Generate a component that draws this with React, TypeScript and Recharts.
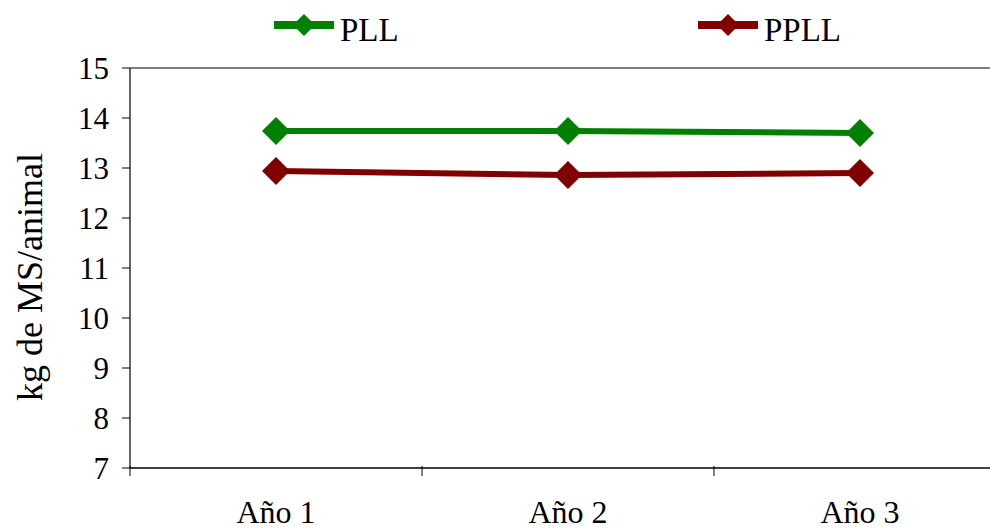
import React from 'react';
import { LineChart, Line, XAxis, YAxis, ReferenceLine } from 'recharts';

const years = ['Año 1', 'Año 2', 'Año 3'];
const pllValues = [13.74, 13.74, 13.7];
const ppllValues = [12.94, 12.86, 12.9];
const yTicks = [7, 8, 9, 10, 11, 12, 13, 14, 15];

const series = [
  { key: 'PLL', color: '#008000' },
  { key: 'PPLL', color: '#800000' },
];

const data = years.map((year, i) => ({
  year,
  PLL: pllValues[i],
  PPLL: ppllValues[i],
}));

const FONT = "'Liberation Serif', 'Times New Roman', serif";

const diamond = (color: string, r: number) => (props: any) => {
  const { cx, cy, index } = props;
  if (cx == null || cy == null) return <g key={index} />;
  return (
    <polygon
      key={index}
      points={`${cx},${cy - r} ${cx + r},${cy} ${cx},${cy + r} ${cx - r},${cy}`}
      fill={color}
    />
  );
};

// category label in the middle of each band, tick line on the band's left edge
const YearTick = (props: any) => {
  const { x, y, payload, width, visibleTicksCount } = props;
  const edge = x - width / (2 * visibleTicksCount);
  return (
    <g>
      <line x1={edge} y1={y - 10} x2={edge} y2={y} stroke="#000" strokeWidth={1} />
      <text x={x} y={y + 47} textAnchor="middle" fontSize={32} fontFamily={FONT} fill="#000">
        {payload.value}
      </text>
    </g>
  );
};

const legendPos = [274, 698];

const App: React.FC = () => {
  return (
    <div style={{ position: 'absolute', left: 0, top: 0, width: 990, height: 529, overflow: 'hidden', background: '#fff' }}>
      <svg width={990} height={50} style={{ position: 'absolute', left: 0, top: 0 }}>
        {series.map((s, i) => {
          const x0 = legendPos[i];
          const cx = x0 + 30;
          return (
            <g key={s.key}>
              <line x1={x0} y1={25} x2={x0 + 60} y2={25} stroke={s.color} strokeWidth={8} />
              <polygon points={`${cx},14 ${cx + 11},25 ${cx},36 ${cx - 11},25`} fill={s.color} />
              <text x={x0 + 66} y={41} fontSize={33} fontFamily={FONT} fill="#000">
                {s.key}
              </text>
            </g>
          );
        })}
      </svg>
      <LineChart
        width={1020}
        height={529}
        data={data}
        margin={{ top: 68, right: 14, bottom: 1, left: 0 }}
        style={{ position: 'absolute', left: 0, top: 0 }}
      >
        <ReferenceLine y={15} stroke="#000" strokeWidth={1.2} />
        <XAxis
          dataKey="year"
          scale="band"
          height={60}
          axisLine={{ stroke: '#000', strokeWidth: 1.5 }}
          tickLine={false}
          tick={<YearTick />}
          interval={0}
        />
        <YAxis
          domain={[7, 15]}
          ticks={yTicks}
          width={130}
          axisLine={{ stroke: '#000', strokeWidth: 1.2 }}
          tickLine={{ stroke: '#000' }}
          tickSize={8}
          tickMargin={13}
          tick={{ fontSize: 31, fontFamily: FONT, fill: '#000' }}
          label={{
            value: 'kg de MS/animal',
            content: () => (
              <text x={42} y={277} transform="rotate(-90 42 277)" textAnchor="middle" fontSize={36} fontFamily={FONT} fill="#000">
                kg de MS/animal
              </text>
            ),
          }}
        />
        {series.map((s) => (
          <Line
            key={s.key}
            dataKey={s.key}
            stroke={s.color}
            strokeWidth={6}
            dot={diamond(s.color, 14)}
            activeDot={false}
            isAnimationActive={false}
          />
        ))}
      </LineChart>
    </div>
  );
};

export default App;
